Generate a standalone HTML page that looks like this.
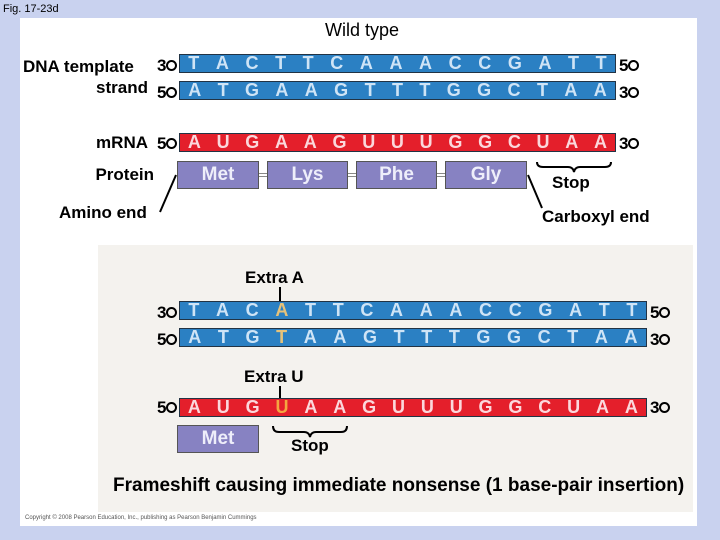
<!DOCTYPE html>
<html><head><style>
body{margin:0;width:720px;height:540px;background:#c9d2ef;font-family:"Liberation Sans",Arial,sans-serif;position:relative;overflow:hidden}
.a{position:absolute;white-space:nowrap}
.bar{position:absolute;height:19px;display:flex;justify-content:space-around;align-items:center;font-size:18px;font-weight:bold;box-sizing:border-box;border:1px solid #234}
.b{background:#2b80c3;color:#cfe4f6}
.r{background:#e41f2b;color:#fbd8dc}
.p{position:absolute;background:#8782c2;color:#eeeefa;border:1px solid #555;box-sizing:border-box;font-weight:bold;font-size:19px;display:flex;align-items:center;justify-content:center}
.e{display:inline-block;width:11px;height:11px;border:2.5px solid #000;border-radius:50%;box-sizing:border-box;vertical-align:middle;margin-left:0px;margin-top:-3px}
.n{font-size:17px;font-weight:bold}
.t{font-size:17px;font-weight:bold}
.rt{text-align:right;width:200px}
</style></head><body>
<div class="a" style="left:20px;top:18px;width:677px;height:508px;background:#fff"></div>
<div class="a" style="left:98px;top:245px;width:595px;height:267px;background:#f4f2ee"></div>
<div class="a" style="left:3px;top:3px;font-size:11px">Fig. 17-23d</div>
<div class="a" style="left:325px;top:20px;font-size:18px">Wild type</div>
<div class="a t" style="left:23px;top:57px">DNA template</div>
<div class="a t rt" style="left:-52px;top:78px">strand</div>
<div class="a t rt" style="left:-52px;top:133px">mRNA</div>
<div class="a t rt" style="left:-46px;top:165px">Protein</div>
<div class="a t" style="left:59px;top:203px">Amino end</div>
<div class="a t" style="left:542px;top:207px">Carboxyl end</div>

<div class="a n" style="left:157px;top:56px">3<span class="e"></span></div>
<div class="a n" style="left:157px;top:83px">5<span class="e"></span></div>
<div class="a n" style="left:157px;top:134px">5<span class="e"></span></div>
<div class="a n" style="left:619px;top:56px">5<span class="e"></span></div>
<div class="a n" style="left:619px;top:83px">3<span class="e"></span></div>
<div class="a n" style="left:619px;top:134px">3<span class="e"></span></div>

<div class="bar b" style="left:179px;top:54px;width:437px"><span>T</span><span>A</span><span>C</span><span>T</span><span>T</span><span>C</span><span>A</span><span>A</span><span>A</span><span>C</span><span>C</span><span>G</span><span>A</span><span>T</span><span>T</span></div>
<div class="bar b" style="left:179px;top:81px;width:437px"><span>A</span><span>T</span><span>G</span><span>A</span><span>A</span><span>G</span><span>T</span><span>T</span><span>T</span><span>G</span><span>G</span><span>C</span><span>T</span><span>A</span><span>A</span></div>
<div class="bar r" style="left:179px;top:133px;width:437px"><span>A</span><span>U</span><span>G</span><span>A</span><span>A</span><span>G</span><span>U</span><span>U</span><span>U</span><span>G</span><span>G</span><span>C</span><span>U</span><span>A</span><span>A</span></div>

<div class="a" style="left:258px;top:173px;width:190px;height:2px;border-top:1px solid #888;border-bottom:1px solid #888;background:#fff"></div>
<div class="p" style="left:177px;top:161px;width:82px;height:28px">Met</div>
<div class="p" style="left:267px;top:161px;width:81px;height:28px">Lys</div>
<div class="p" style="left:356px;top:161px;width:81px;height:28px">Phe</div>
<div class="p" style="left:445px;top:161px;width:82px;height:28px">Gly</div>

<svg class="a" style="left:0;top:0" width="720" height="540">
<g fill="none" stroke="#000" stroke-width="2">
<line x1="176" y1="175" x2="160" y2="212"/>
<line x1="528" y1="175" x2="542" y2="208"/>
<path d="M537 162 q0 5 6 5 h25 q5 0 6 5 q1 -5 6 -5 h25 q6 0 6 -5"/>
<line x1="280" y1="287" x2="280" y2="301"/>
<line x1="280" y1="386" x2="280" y2="398"/>
<path d="M273 426 q0 6 6 6 h25 q5 0 6 5 q1 -5 6 -5 h25 q6 0 6 -6"/>
</g></svg>
<div class="a n" style="left:552px;top:173px">Stop</div>

<div class="a t" style="left:245px;top:268px">Extra A</div>
<div class="a n" style="left:157px;top:303px">3<span class="e"></span></div>
<div class="a n" style="left:157px;top:330px">5<span class="e"></span></div>
<div class="a n" style="left:157px;top:398px">5<span class="e"></span></div>
<div class="a n" style="left:650px;top:303px">5<span class="e"></span></div>
<div class="a n" style="left:650px;top:330px">3<span class="e"></span></div>
<div class="a n" style="left:650px;top:398px">3<span class="e"></span></div>
<div class="bar b" style="left:179px;top:301px;width:468px"><span>T</span><span>A</span><span>C</span><span style="color:#e6c27a">A</span><span>T</span><span>T</span><span>C</span><span>A</span><span>A</span><span>A</span><span>C</span><span>C</span><span>G</span><span>A</span><span>T</span><span>T</span></div>
<div class="bar b" style="left:179px;top:328px;width:468px"><span>A</span><span>T</span><span>G</span><span style="color:#e6c27a">T</span><span>A</span><span>A</span><span>G</span><span>T</span><span>T</span><span>T</span><span>G</span><span>G</span><span>C</span><span>T</span><span>A</span><span>A</span></div>
<div class="a t" style="left:244px;top:367px">Extra U</div>
<div class="bar r" style="left:179px;top:398px;width:468px"><span>A</span><span>U</span><span>G</span><span style="color:#f4a640">U</span><span>A</span><span>A</span><span>G</span><span>U</span><span>U</span><span>U</span><span>G</span><span>G</span><span>C</span><span>U</span><span>A</span><span>A</span></div>
<div class="p" style="left:177px;top:425px;width:82px;height:28px">Met</div>
<div class="a n" style="left:291px;top:436px">Stop</div>
<div class="a" style="left:113px;top:475px;font-size:19px;font-weight:bold">Frameshift causing immediate nonsense (1 base-pair insertion)</div>
<div class="a" style="left:25px;top:515px;font-size:6px;color:#555">Copyright © 2008 Pearson Education, Inc., publishing as Pearson Benjamin Cummings</div>
</body></html>
